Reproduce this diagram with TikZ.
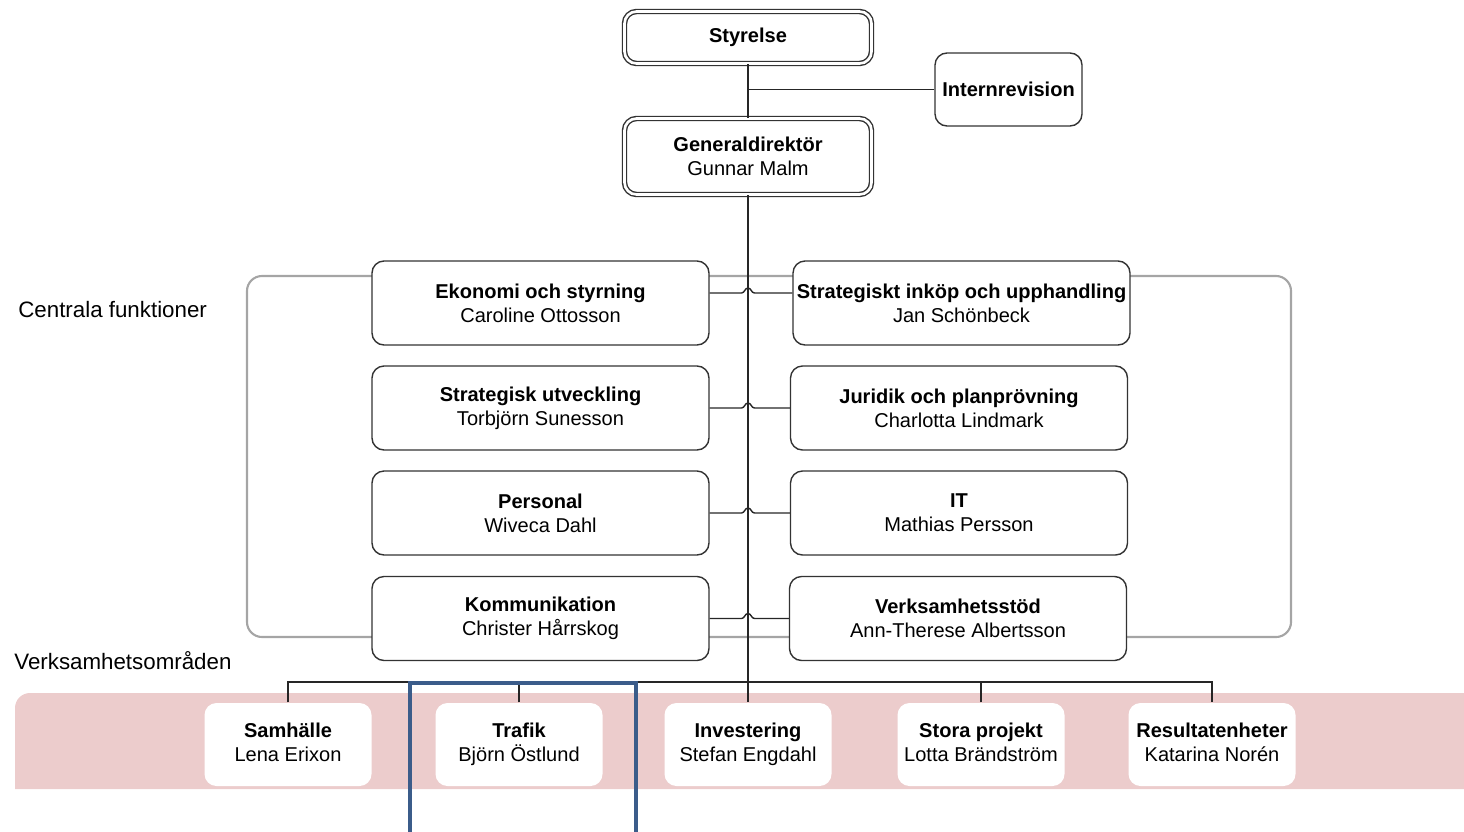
\documentclass[tikz,border=0pt]{standalone}
\usepackage{fontspec}
\setmainfont{Liberation Sans}
\usetikzlibrary{calc}

\definecolor{bandrosa}{RGB}{236,204,204}
\definecolor{ramblå}{RGB}{59,92,138}
\definecolor{ramgrå}{RGB}{165,165,165}

\tikzset{
  enhet/.style={draw=black!80, line width=0.8pt, rounded corners=0.24cm, fill=white,
    align=center, inner sep=0pt, minimum width=6.74cm, minimum height=1.68cm,
    font=\fontsize{11.4}{13.7}\selectfont},
  ledning/.style={enhet, double, double distance=1.5pt, minimum width=4.94cm},
  omrade/.style={enhet, draw=none, minimum width=3.34cm, minimum height=1.66cm},
  rubrik/.style={anchor=west, inner sep=0pt, font=\fontsize{12.7}{15}\selectfont},
  linje/.style={black!85, line width=0.8pt}
}

\begin{document}
\begin{tikzpicture}
\useasboundingbox (0,0) rectangle (29.28,-16.62);

%Bakgrund
\fill[bandrosa] (0.3,-15.78) -- (0.3,-14.16) arc[start angle=180, end angle=90, radius=0.3]
  -- (29.28,-13.86) -- (29.28,-15.78) -- cycle;
\draw[ramgrå, line width=1.2pt, rounded corners=0.3cm] (4.94,-5.52) rectangle (25.82,-12.74);

%Rubriker
\node[rubrik] (central) at (0.36,-6.2) {Centrala funktioner};
\node[rubrik] (verks) at (0.28,-13.22) {Verksamhetsområden};

%Ledning
\node[ledning, minimum height=1.04cm] (styr) at (14.96,-0.75) {\textbf{Styrelse}};
\node[enhet, minimum width=2.94cm, minimum height=1.46cm] (intern) at (20.17,-1.79) {\textbf{Internrevision}};
\node[ledning, minimum height=1.52cm] (gd) at (14.96,-3.13) {\textbf{Generaldirektör}\\Gunnar Malm};

%Verksamhetsomraden
\node[omrade] (sam) at (5.76,-14.89) {\textbf{Samhälle}\strut\\Lena Erixon\strut};
\node[omrade] (traf) at (10.38,-14.89) {\textbf{Trafik}\strut\\Björn Östlund\strut};
\node[omrade] (inv) at (14.96,-14.89) {\textbf{Investering}\strut\\Stefan Engdahl\strut};
\node[omrade] (stora) at (19.62,-14.89) {\textbf{Stora projekt}\strut\\Lotta Brändström\strut};
\node[omrade] (res) at (24.24,-14.89) {\textbf{Resultatenheter}\strut\\Katarina Norén\strut};

%Linjer
\coordinate (buss) at (0,-13.64);
\draw[linje] (styr.south) -- (gd.north);
\draw[linje] (intern.west) -- (intern.west -| styr.south);
\draw[linje] (gd.south) -- (inv.north);
\draw[linje] (sam.north) -- (sam.north |- buss) -- (res.north |- buss) -- (res.north);
\foreach \n in {traf,stora}
  \draw[linje] (\n.north) -- (\n.north |- buss);

%Centrala funktioner
\node[enhet] (v1) at (10.81,-6.06) {\textbf{Ekonomi och styrning}\\Caroline Ottosson};
\node[enhet] (v2) at (10.81,-8.16) {\textbf{Strategisk utveckling}\\Torbjörn Sunesson};
\node[enhet] (v3) at (10.81,-10.26) {\textbf{Personal}\\Wiveca Dahl};
\node[enhet] (v4) at (10.81,-12.37) {\textbf{Kommunikation}\\Christer Hårrskog};
\node[enhet] (h1) at (19.23,-6.06) {\textbf{Strategiskt inköp och upphandling}\\Jan Schönbeck};
\node[enhet] (h2) at (19.18,-8.16) {\textbf{Juridik och planprövning}\\Charlotta Lindmark};
\node[enhet] (h3) at (19.18,-10.26) {\textbf{IT}\\Mathias Persson};
\node[enhet] (h4) at (19.16,-12.37) {\textbf{Verksamhetsstöd}\\Ann-Therese Albertsson};

\coordinate (k1) at ([yshift=0.2cm]v1.east);
\foreach \i in {2,3,4}
  \coordinate (k\i) at (v\i.east);
\foreach \i in {1,2,3,4}
  \draw[linje] (k\i) -- ($(k\i -| gd.south)+(-0.13,0)$)
    to[out=0,in=180] ++(0.13,0.1) to[out=0,in=180] ++(0.13,-0.1) -- (k\i -| h\i.west);

%Markering
\draw[ramblå, line width=2.3pt] (8.2,-16.7) -- (8.2,-13.66) -- (12.72,-13.66) -- (12.72,-16.7);

\end{tikzpicture}
\end{document}
